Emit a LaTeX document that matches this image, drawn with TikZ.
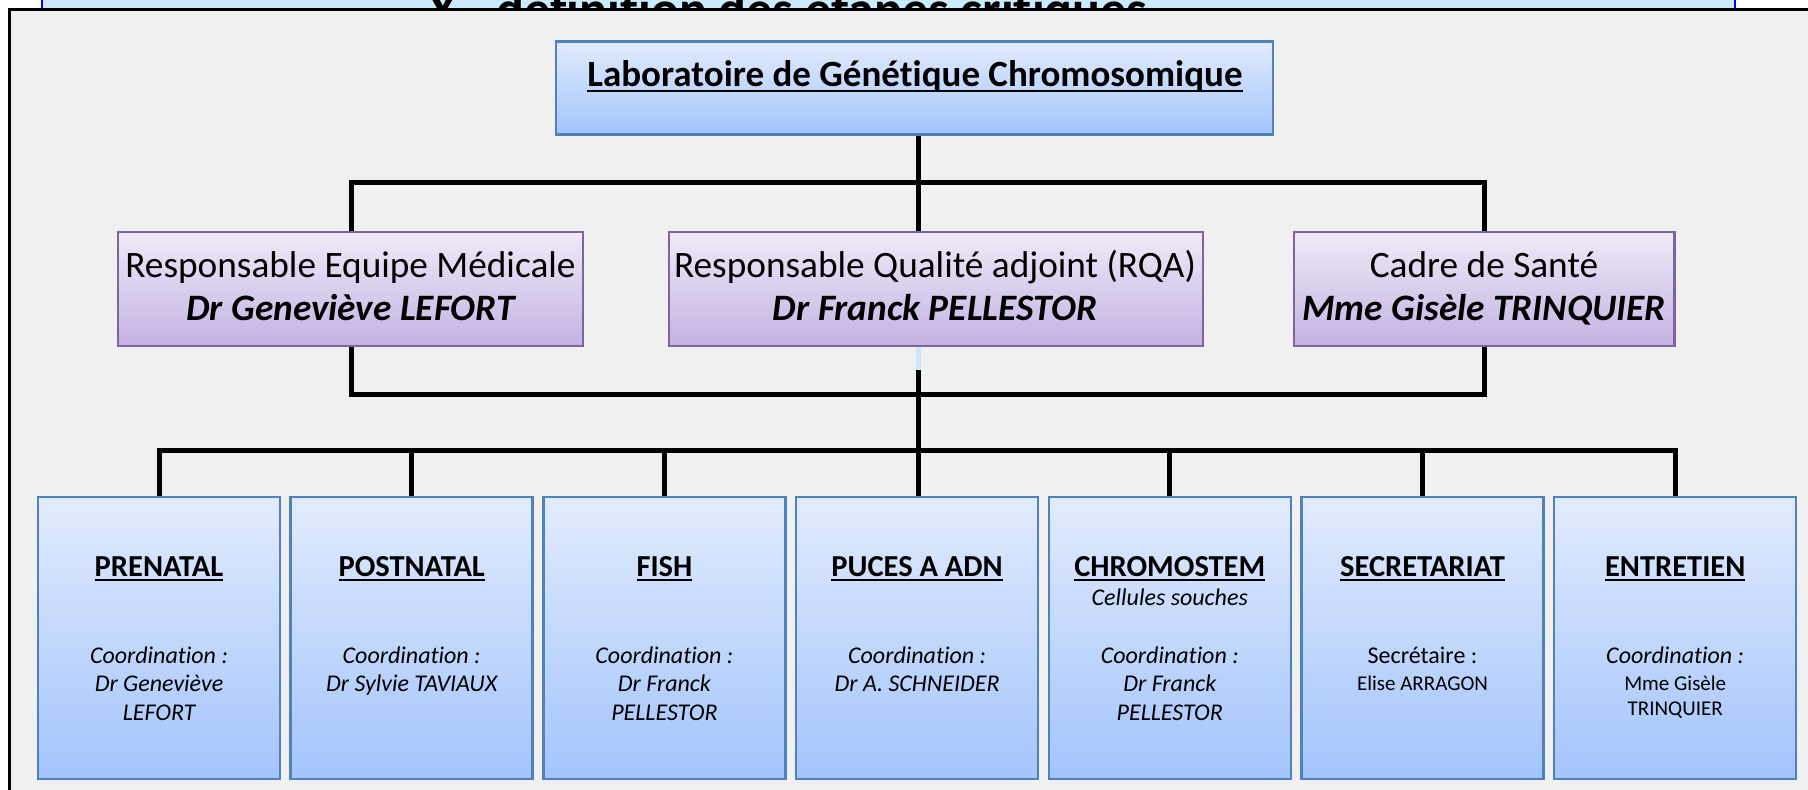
\documentclass[tikz,border=0pt]{standalone}
\usepackage{fontspec}
\setmainfont{Carlito}[Ligatures=NoCommon]
\definecolor{panelgray}{RGB}{240,240,240}
\definecolor{bandblue}{RGB}{204,234,253}
\definecolor{pureblue}{RGB}{0,0,255}
\definecolor{boxblue}{RGB}{79,129,189}
\definecolor{bluetop}{RGB}{225,235,253}
\definecolor{bluebot}{RGB}{163,196,252}
\definecolor{boxpurple}{RGB}{128,100,162}
\definecolor{purptop}{RGB}{240,234,248}
\definecolor{purpbot}{RGB}{196,178,226}
\definecolor{lightconn}{RGB}{204,232,252}
\newcommand{\fsz}[1]{\fontsize{#1}{#1}\selectfont}
\newcommand{\myul}[1]{\leavevmode\vtop{\setbox0\hbox{#1}\dp0=0pt\box0\kern0.1em\hrule height0.06em}}
\tikzset{
  conn/.style={line width=5pt, draw=black},
  bluebox/.style={rectangle, draw=boxblue, line width=2.5pt, top color=bluetop, bottom color=bluebot, inner sep=0},
  midbox/.style={rectangle, draw=boxpurple, line width=2.5pt, top color=purptop, bottom color=purpbot, inner sep=0, minimum height=114pt},
  botbox/.style={bluebox, minimum width=242pt, minimum height=282pt},
  txtbase/.style={anchor=base, inner sep=0},
  ttl/.style={txtbase, font=\fsz{30.5}\bfseries},
  itl/.style={txtbase, font=\fsz{24}\itshape},
  rg/.style={txtbase, font=\fsz{24}},
  rgs/.style={txtbase, font=\fsz{21}},
  midA/.style={txtbase, font=\fsz{37.3}},
  midB/.style={txtbase, font=\fsz{37.3}\bfseries\itshape},
}
\begin{document}
\begin{tikzpicture}[x=1pt,y=-1pt]
\useasboundingbox (0,0) rectangle (1808,790);
\fill[white] (0,0) rectangle (1808,790);
% cut title band
\fill[bandblue] (42,0) rectangle (1735,8);
\begin{scope}
  \clip (42,0) rectangle (1735,8);
  \node[txtbase, font=\fsz{52}\bfseries] (title) at (788,27) {X - définition des étapes critiques};
\end{scope}
\draw[line width=2pt, pureblue] (42,0) -- (42,8) (1735,0) -- (1735,8);
% panel
\draw[line width=3pt, fill=panelgray] (9,9) rectangle (1830,820);

% top box
\node[bluebox, minimum width=717pt, minimum height=93pt] (lab) at (914.5,88) {};
\node[txtbase, font=\fsz{37}\bfseries] (labt) at (915,86) {\myul{Laboratoire de Génétique Chromosomique}};

% middle boxes
\node[midbox, minimum width=465pt] (m1) at (350.5,289) {};
\node[midbox, minimum width=534pt] (m2) at (936,289) {};
\node[midbox, minimum width=380.5pt] (m3) at (1484,289) {};
\node[midA] (m1a) at (350.5,277) {Responsable Equipe Médicale};
\node[midB] (m1b) at (350.5,320) {Dr Geneviève LEFORT};
\node[midA] (m2a) at (935,277) {Responsable Qualité adjoint (RQA)};
\node[midB] (m2b) at (935,320) {Dr Franck PELLESTOR};
\node[midA] (m3a) at (1484,277) {Cadre de Santé};
\node[midB] (m3b) at (1484,320) {Mme Gisèle TRINQUIER};

% bottom boxes
\node[botbox] (b1) at (159,638) {};
\node[botbox] (b2) at (411.7,638) {};
\node[botbox] (b3) at (664.4,638) {};
\node[botbox] (b4) at (917.1,638) {};
\node[botbox] (b5) at (1169.8,638) {};
\node[botbox] (b6) at (1422.5,638) {};
\node[botbox] (b7) at (1675.2,638) {};

\node[ttl] (b1t) at (159,576) {\myul{PRENATAL}};
\node[itl] (b1c) at (159,663) {Coordination :};
\node[itl] (b1d) at (159,691) {Dr Geneviève};
\node[itl] (b1e) at (159,720) {LEFORT};

\node[ttl] (b2t) at (411.7,576) {\myul{POSTNATAL}};
\node[itl] (b2c) at (411.7,663) {Coordination :};
\node[itl] (b2d) at (411.7,691) {Dr Sylvie TAVIAUX};

\node[ttl] (b3t) at (664.4,576) {\myul{FISH}};
\node[itl] (b3c) at (664.4,663) {Coordination :};
\node[itl] (b3d) at (664.4,691) {Dr Franck};
\node[itl] (b3e) at (664.4,720) {PELLESTOR};

\node[ttl] (b4t) at (917.1,576) {\myul{PUCES A ADN}};
\node[itl] (b4c) at (917.1,663) {Coordination :};
\node[itl] (b4d) at (917.1,691) {Dr A. SCHNEIDER};

\node[ttl] (b5t) at (1169.8,576) {\myul{CHROMOSTEM}};
\node[itl] (b5s) at (1169.8,605) {Cellules souches};
\node[itl] (b5c) at (1169.8,663) {Coordination :};
\node[itl] (b5d) at (1169.8,691) {Dr Franck};
\node[itl] (b5e) at (1169.8,720) {PELLESTOR};

\node[ttl] (b6t) at (1422.5,576) {\myul{SECRETARIAT}};
\node[rg] (b6c) at (1422.5,663) {Secrétaire :};
\node[rgs] (b6d) at (1422.5,690) {Elise ARRAGON};

\node[ttl] (b7t) at (1675.2,576) {\myul{ENTRETIEN}};
\node[itl] (b7c) at (1675.2,663) {Coordination :};
\node[rgs] (b7d) at (1675.2,690) {Mme Gisèle};
\node[rgs] (b7e) at (1675.2,715) {TRINQUIER};

% connectors
\coordinate (j1) at (918,182);
\coordinate (hL) at (351,182);
\coordinate (hR) at (1484,182);
\draw[conn] (lab.south -| j1) -- (j1);
\draw[conn] (m1.north -| hL) -- (hL) -- (hR) -- (m3.north -| hR);
\draw[conn] (j1) -- (m2.north -| j1);
\coordinate (aL) at (351,394);
\coordinate (aR) at (1484,394);
\draw[conn] (m1.south -| aL) -- (aL) -- (aR) -- (m3.south -| aR);
\coordinate (cc) at (918,370);
\draw[line width=5pt, lightconn] (m2.south -| cc) -- (cc);
\draw[conn] (cc) -- (b4.north -| cc);
\coordinate (bB) at (0,450);
\draw[conn] (b1.north) -- (b1.north |- bB) -- (b7.north |- bB) -- (b7.north);
\foreach \i in {2,3,5,6}{
  \draw[conn] (b\i.north |- bB) -- (b\i.north);
}
\end{tikzpicture}
\end{document}
